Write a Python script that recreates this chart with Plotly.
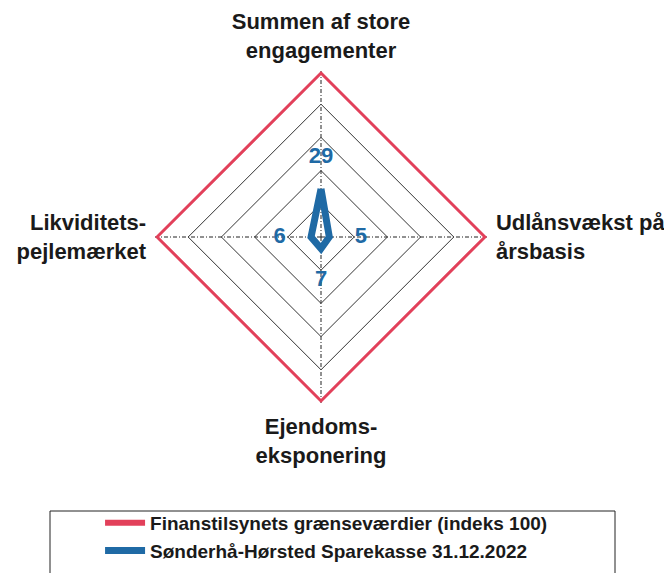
import plotly.graph_objects as go

categories = ["Summen af store<br>engagementer", "Udlånsvækst på<br>årsbasis",
              "Ejendoms-<br>eksponering", "Likviditets-<br>pejlemærket"]
limit_values = [100, 100, 100, 100]
bank_values = [29, 5, 7, 6]
series_names = ["Finanstilsynets grænseværdier (indeks 100)",
                "Sønderhå-Hørsted Sparekasse 31.12.2022"]
grid_ticks = [20, 40, 60, 80]

RED = "#e2405a"
BLUE = "#1f6aa5"
FONT = "Liberation Sans, Arial, sans-serif"

def closed(v):
    return list(v) + [v[0]]

fig = go.Figure()
fig.add_trace(go.Scatterpolar(
    r=closed(limit_values), theta=closed(categories), mode="lines",
    line=dict(color=RED, width=6), name=series_names[0], legendgroup="a"))
fig.add_trace(go.Scatterpolar(
    r=closed(bank_values), theta=closed(categories), mode="lines",
    line=dict(color=BLUE, width=7), name=series_names[1], legendgroup="b"))
label_offset = 19
fig.add_trace(go.Scatterpolar(
    r=[v + label_offset for v in bank_values], theta=categories, mode="text",
    text=[str(v) for v in bank_values], textposition="middle center",
    textfont=dict(family=FONT, size=22, color=BLUE, weight="bold"),
    showlegend=False, hoverinfo="skip"))

fig.update_layout(
    width=672, height=573,
    margin=dict(l=0, r=0, t=0, b=0),
    paper_bgcolor="white", plot_bgcolor="white",
    font=dict(family=FONT),
    polar=dict(
        domain=dict(x=[147/672, 479/672], y=[1-395/573, 1-63/573]),
        bgcolor="white",
        gridshape="linear",
        radialaxis=dict(range=[0, 100], tickvals=grid_ticks, showticklabels=False,
                        ticks="", showline=False, gridcolor="#333", gridwidth=1),
        angularaxis=dict(rotation=90, direction="clockwise", showline=False,
                         ticks="outside", ticklen=4, tickcolor="rgba(0,0,0,0)",
                         gridcolor="#222", gridwidth=1, griddash="4px,2px,1px,2px",
                         tickfont=dict(family=FONT, size=22, color="#1a1a1a", weight="bold")),
    ),
    legend=dict(x=0.137, y=1-496/573, xanchor="left", yanchor="top",
                bgcolor="rgba(0,0,0,0)", borderwidth=0,
                font=dict(family=FONT, size=19, color="#1a1a1a", weight="bold"),
                tracegroupgap=0, itemwidth=40),
    shapes=[dict(type="rect", xref="paper", yref="paper",
                 x0=42/672, x1=607/672, y0=-0.05, y1=1-503/573,
                 line=dict(color="#222", width=1), fillcolor="rgba(0,0,0,0)")],
)

fig.write_html("out.html")
